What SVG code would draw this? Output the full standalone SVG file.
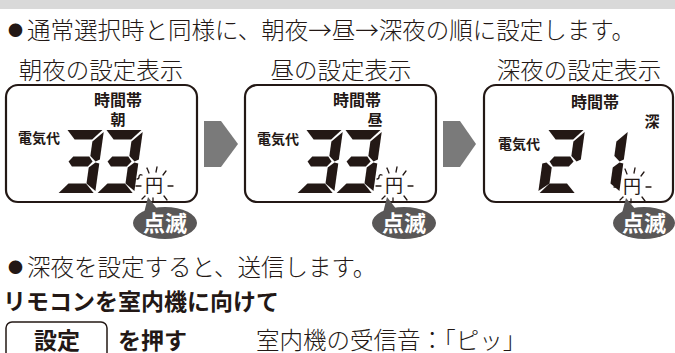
<svg xmlns="http://www.w3.org/2000/svg" xmlns:xlink="http://www.w3.org/1999/xlink" width="675" height="353" viewBox="0 0 675 353">
<style>
.t{font-family:"Noto Sans CJK JP","Noto Sans",sans-serif;font-weight:300;font-size:23.5px;fill:#231815}
.b{font-family:"Noto Sans CJK JP","Noto Sans",sans-serif;font-weight:700;font-size:23px;fill:#231815}
.lcd{font-family:"Noto Sans CJK JP","Noto Sans",sans-serif;font-weight:700;fill:#231815}
.yen{font-family:"Noto Sans CJK JP","Noto Sans",sans-serif;font-weight:400;font-size:18px;fill:#231815}
.blink{font-family:"Noto Sans CJK JP","Noto Sans",sans-serif;font-weight:700;font-size:22px;fill:#fff}
.box{fill:#fff;stroke:#231815;stroke-width:2.2}
.arrow{fill:#7a7a7a}
.bub{fill:#595757}
.ray{stroke:#231815;stroke-width:1.3;stroke-linecap:round;fill:none}
.seg{fill:#231815}
.dot{font-size:15px}
</style>
<defs>
<polygon id="sa" class="seg" points="1.5,0 36.5,0 27.5,9.5 10,9.5"/>
<polygon id="sb" class="seg" points="38,2 38,29.5 34,31.5 28,26 28,11.5"/>
<polygon id="sc" class="seg" points="38,33.5 38,61 28,53.5 28,37.5 34,32.5"/>
<polygon id="sd" class="seg" points="10,53.5 27.5,53.5 36.5,63 1.5,63"/>
<polygon id="se" class="seg" points="0,33.5 0,61 10,53.5 10,37.5 4,32.5"/>
<polygon id="sg" class="seg" points="11,26.5 27,26.5 31,31.5 27,36.5 11,36.5 7,31.5"/>
<g id="d3"><use xlink:href="#sa"/><use xlink:href="#sb"/><use xlink:href="#sc"/><use xlink:href="#sd"/><use xlink:href="#sg"/></g>
<g id="d2"><use xlink:href="#sa"/><use xlink:href="#sb"/><use xlink:href="#sg"/><use xlink:href="#se"/><use xlink:href="#sd"/></g>
<g id="d1"><use xlink:href="#sb"/><use xlink:href="#sc"/></g>
<g id="rays">
<line class="ray" x1="-5" y1="-12" x2="-7" y2="-17"/>
<line class="ray" x1="2" y1="-13" x2="3" y2="-18"/>
<line class="ray" x1="9" y1="-10" x2="12" y2="-14"/>
<line class="ray" x1="14" y1="1" x2="19" y2="1"/>
<line class="ray" x1="10" y1="11" x2="13" y2="15"/>
<line class="ray" x1="-1" y1="13" x2="-1" y2="17"/>
<line class="ray" x1="-9" y1="11" x2="-12" y2="14"/>
<line class="ray" x1="-13" y1="1" x2="-18" y2="1"/>
<path class="ray" d="M-12,-10 q-3,-1 -3,2 q0,2 -2,2"/>
</g>
</defs>

<rect x="0" y="0" width="675" height="9" fill="#d9d9d9"/>

<text class="t" x="8" y="39"><tspan class="dot" dy="-3">●</tspan><tspan dy="3" dx="4">通常選択時と同様に、朝夜→昼→深夜の順に設定します。</tspan></text>
<text class="t" x="101" y="79" text-anchor="middle">朝夜の設定表示</text>
<text class="t" x="341" y="79" text-anchor="middle">昼の設定表示</text>
<text class="t" x="579" y="79" text-anchor="middle">深夜の設定表示</text>

<g id="connectors">
<polygon class="arrow" points="204,121 221,121 238,144 221,167 204,167"/>
<polygon class="arrow" points="443,121 460,121 476,144 460,167 443,167"/>
</g>

<g id="display-asayoru">
<rect class="box" x="6" y="85" width="191" height="117" rx="12"/>
<text class="lcd" x="118" y="106" font-size="16" text-anchor="middle">時間帯</text>
<text class="lcd" x="118" y="125" font-size="15" text-anchor="middle">朝</text>
<text class="lcd" x="18" y="143" font-size="14">電気代</text>
<use xlink:href="#d3" transform="translate(66,130) skewX(-8)"/>
<use xlink:href="#d3" transform="translate(105,130) skewX(-8)"/>
<text class="yen" x="154" y="192" text-anchor="middle">円</text>
<use xlink:href="#rays" transform="translate(154,185)"/>
<polygon class="bub" points="144,213 148,197 158,210"/>
<ellipse class="bub" cx="165" cy="223" rx="32" ry="16"/>
<text class="blink" x="165" y="231" text-anchor="middle">点滅</text>
</g>

<g id="display-hiru">
<rect class="box" x="245" y="85" width="191" height="117" rx="12"/>
<text class="lcd" x="357" y="106" font-size="16" text-anchor="middle">時間帯</text>
<text class="lcd" x="375" y="125" font-size="15" text-anchor="middle">昼</text>
<text class="lcd" x="257" y="144" font-size="14">電気代</text>
<use xlink:href="#d3" transform="translate(305,130) skewX(-8)"/>
<use xlink:href="#d3" transform="translate(344,130) skewX(-8)"/>
<text class="yen" x="394" y="192" text-anchor="middle">円</text>
<use xlink:href="#rays" transform="translate(394,185)"/>
<polygon class="bub" points="383,213 387,197 397,210"/>
<ellipse class="bub" cx="404" cy="223" rx="32" ry="16"/>
<text class="blink" x="404" y="231" text-anchor="middle">点滅</text>
</g>

<g id="display-shinya">
<rect class="box" x="484" y="85" width="189" height="117" rx="12"/>
<text class="lcd" x="595" y="108" font-size="16" text-anchor="middle">時間帯</text>
<text class="lcd" x="652" y="127" font-size="15" text-anchor="middle">深</text>
<text class="lcd" x="498" y="149" font-size="14">電気代</text>
<use xlink:href="#d2" transform="translate(547,130) skewX(-8)"/>
<use xlink:href="#d1" transform="translate(590,130) skewX(-8)"/>
<text class="yen" x="632" y="193" text-anchor="middle">円</text>
<use xlink:href="#rays" transform="translate(632,186)"/>
<polygon class="bub" points="622,213 626,198 636,210"/>
<ellipse class="bub" cx="644" cy="223" rx="31" ry="16"/>
<text class="blink" x="644" y="231" text-anchor="middle">点滅</text>
</g>

<text class="t" x="8" y="276"><tspan class="dot" dy="-3">●</tspan><tspan dy="3" dx="4">深夜を設定すると、送信します。</tspan></text>
<text class="b" x="3" y="310">リモコンを室内機に向けて</text>
<g id="button-settei">
<rect x="6" y="322" width="101" height="40" rx="6" fill="#fff" stroke="#231815" stroke-width="1.5"/>
<text class="b" x="57" y="349" text-anchor="middle">設定</text>
</g>
<text class="b" x="118" y="349">を押す</text>
<text class="t" x="256" y="349">室内機の受信音：「ピッ」</text>
</svg>
